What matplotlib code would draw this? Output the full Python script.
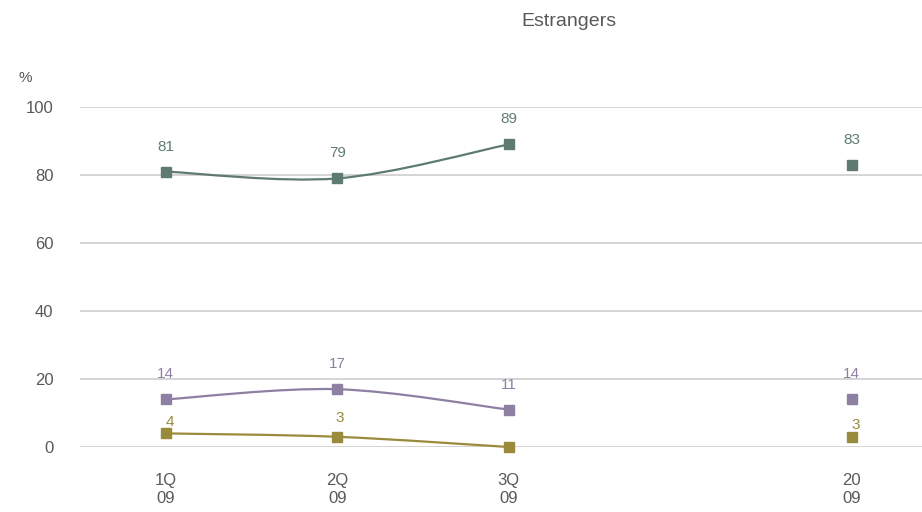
import numpy as np
import matplotlib
matplotlib.use("Agg")
import matplotlib.pyplot as plt
from matplotlib.path import Path
from matplotlib.patches import PathPatch

plt.rcParams['font.family'] = ['Liberation Sans Narrow', 'Liberation Sans', 'DejaVu Sans']

# --- data ---
categories = ["1Q\n09", "2Q\n09", "3Q\n09", "", "20\n09"]
quarter_idx = [0, 1, 2]
year_idx = 4

green_q = [81, 79, 89]
green_y = 83
purple_q = [14, 17, 11]
purple_y = 14
olive_q = [4, 3, 0]
olive_y = 3

GREEN = '#5f7b71'
PURPLE = '#8e80a2'
OLIVE = '#9a8a3c'
TEXT = '#595959'


def smooth_path(xs, ys, tension=1 / 6):
    # Catmull-Rom style bezier through the points (Excel-like smoothed line)
    pts = np.column_stack([xs, ys]).astype(float)
    verts = [pts[0]]
    codes = [Path.MOVETO]
    n = len(pts)
    for i in range(n - 1):
        p0 = pts[i - 1] if i > 0 else pts[i]
        p1 = pts[i]
        p2 = pts[i + 1]
        p3 = pts[i + 2] if i + 2 < n else pts[i + 1]
        c1 = p1 + (p2 - p0) * tension
        c2 = p2 - (p3 - p1) * tension
        verts += [c1, c2, p2]
        codes += [Path.CURVE4] * 3
    return Path(verts, codes)


fig = plt.figure(figsize=(9.22, 5.12), dpi=100)
ax = fig.add_axes([80 / 922, 1 - 447 / 512, 842 / 922, 340 / 512])

# label offsets in points (dx, dy) per point: 1Q, 2Q, 3Q, 2009
series = [
    (green_q, green_y, GREEN, [(0, 18)] * 4),
    (purple_q, purple_y, PURPLE, [(0, 18)] * 4),
    (olive_q, olive_y, OLIVE, [(3, 8.5), (2, 13.5), None, (3, 8.5)]),
]

for vals, yv, col, offs in series:
    ax.add_patch(PathPatch(smooth_path(quarter_idx, vals), facecolor='none',
                           edgecolor=col, lw=1.6, zorder=3, clip_on=False))
    ax.plot(quarter_idx + [year_idx], vals + [yv], ls='none', marker='s',
            ms=7.5, color=col, zorder=4, clip_on=False)
    for x, v, off in zip(quarter_idx + [year_idx], vals + [yv], offs):
        if off is None:
            continue
        ax.annotate(str(v), (x, v), xytext=off, textcoords='offset points',
                    ha='center', va='center', fontsize=11, color=col)

ax.set_xlim(-0.5, 4.41)
ax.set_ylim(0, 100)
ax.set_yticks(range(0, 101, 20))
ax.set_xticks(range(len(categories)))
ax.set_xticklabels(categories, fontsize=12, color=TEXT, linespacing=1.25)
ax.tick_params(axis='both', length=0, labelsize=12, labelcolor=TEXT)
ax.tick_params(axis='x', pad=19)
ax.tick_params(axis='y', pad=19)
ax.grid(axis='y', color='#d4d4d4', lw=1.4)
ax.set_axisbelow(True)
for s in ax.spines.values():
    s.set_visible(False)

fig.text(25 / 922, 1 - 78 / 512, '%', fontsize=11, color=TEXT, ha='center', va='center')
fig.text(569 / 922, 1 - 22 / 512, 'Estrangers', fontsize=14, color=TEXT, ha='center', va='center')

fig.savefig('out.png', dpi=100)
